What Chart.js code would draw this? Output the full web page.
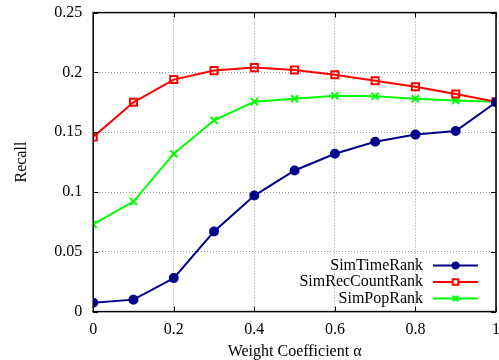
<!DOCTYPE html>
<html>
<head>
<meta charset="utf-8">
<script src="https://cdn.jsdelivr.net/npm/chart.js"></script>
<style>
  html, body { margin: 0; padding: 0; background: #fff; overflow: hidden; }
  #wrap { width: 509px; height: 376px; margin-top: -8px; }
</style>
</head>
<body>
<div id="wrap"><canvas id="recallChart"></canvas></div>
<script>
  // weight coefficient alpha and recall per ranking method
  const alphas = [0, 0.1, 0.2, 0.3, 0.4, 0.5, 0.6, 0.7, 0.8, 0.9, 1];
  const simTimeRank = [0.0075, 0.010, 0.028, 0.067, 0.097, 0.118, 0.132, 0.142, 0.148, 0.151, 0.175];
  const simRecCountRank = [0.146, 0.175, 0.194, 0.2015, 0.204, 0.202, 0.198, 0.193, 0.188, 0.182, 0.1755];
  const simPopRank = [0.073, 0.092, 0.132, 0.160, 0.1755, 0.178, 0.1805, 0.180, 0.178, 0.1765, 0.1755];

  const xTicks = ['0', '0.2', '0.4', '0.6', '0.8', '1'];
  const yTicks = ['0', '0.05', '0.1', '0.15', '0.2', '0.25'];

  const serif = '"Liberation Serif", "Times New Roman", serif';
  const topShift = 8; // canvas sits this far above the page top

  function points(values) {
    return values.map((v, i) => ({ x: alphas[i], y: v }));
  }

  // frame + inward tick marks around the plot area, and a gnuplot-style legend
  const framePlugin = {
    id: 'frame',
    afterDraw(chart) {
      const { ctx, chartArea: a, scales } = chart;
      ctx.save();
      ctx.strokeStyle = '#000';
      ctx.lineWidth = 1;
      ctx.beginPath();
      scales.x.ticks.forEach(t => {
        const px = Math.round(scales.x.getPixelForValue(t.value)) + 0.5;
        ctx.moveTo(px, a.bottom); ctx.lineTo(px, a.bottom - 5);
        ctx.moveTo(px, a.top); ctx.lineTo(px, a.top + 5);
      });
      scales.y.ticks.forEach(t => {
        const py = Math.round(scales.y.getPixelForValue(t.value)) + 0.5;
        ctx.moveTo(a.left, py); ctx.lineTo(a.left + 5, py);
        ctx.moveTo(a.right, py); ctx.lineTo(a.right - 5, py);
      });
      ctx.stroke();
      ctx.lineWidth = 1.5;
      ctx.strokeRect(a.left, a.top, a.right - a.left, a.bottom - a.top);

      ctx.font = '16px ' + serif;
      ctx.textAlign = 'right';
      ctx.textBaseline = 'middle';
      const textRight = 423, lineL = 433, lineR = 478;
      chart.data.datasets.forEach((ds, i) => {
        const y = topShift + 265.5 + i * 16.5;
        ctx.fillStyle = '#000';
        ctx.fillText(ds.label, textRight, y);
        ctx.strokeStyle = ds.borderColor;
        ctx.lineWidth = 2;
        ctx.beginPath();
        ctx.moveTo(lineL, y);
        ctx.lineTo(lineR, y);
        ctx.stroke();
        ctx.fillStyle = ds.pointBackgroundColor === 'transparent' ? '#fff' : ds.pointBackgroundColor;
        Chart.helpers.drawPoint(ctx, {
          pointStyle: ds.pointStyle,
          radius: ds.pointRadius - 1,
          rotation: 0,
          borderWidth: 2
        }, (lineL + lineR) / 2, y);
      });
      ctx.restore();
    }
  };

  const ctx = document.getElementById('recallChart').getContext('2d');
  new Chart(ctx, {
    type: 'line',
    data: {
      datasets: [
        {
          label: 'SimTimeRank', data: points(simTimeRank),
          borderColor: '#00008b', backgroundColor: '#00008b',
          pointStyle: 'circle', pointRadius: 4,
          pointBackgroundColor: '#00008b', pointBorderColor: '#00008b'
        },
        {
          label: 'SimRecCountRank', data: points(simRecCountRank),
          borderColor: '#ff0000', backgroundColor: '#ff0000',
          pointStyle: 'rect', pointRadius: 5,
          pointBackgroundColor: 'transparent', pointBorderColor: '#ff0000'
        },
        {
          label: 'SimPopRank', data: points(simPopRank),
          borderColor: '#00ff00', backgroundColor: '#00ff00',
          pointStyle: 'crossRot', pointRadius: 5,
          pointBackgroundColor: 'transparent', pointBorderColor: '#00ff00'
        }
      ]
    },
    options: {
      responsive: true,
      maintainAspectRatio: false,
      animation: false,
      layout: { padding: { top: 3, right: 0, left: 12, bottom: 7 } },
      elements: {
        line: { borderWidth: 2, tension: 0 },
        point: { borderWidth: 2 }
      },
      plugins: { legend: { display: false }, tooltip: { enabled: false } },
      scales: {
        x: {
          type: 'linear', min: 0, max: 1,
          afterBuildTicks: s => { s.ticks = xTicks.map(t => ({ value: parseFloat(t) })); },
          ticks: {
            callback: (v, i) => xTicks[i],
            font: { family: serif, size: 16 }, color: '#000', padding: 9, maxRotation: 0
          },
          grid: { color: '#999', lineWidth: 1, drawTicks: false },
          border: { display: false, dash: [1, 2] },
          title: { display: true, text: 'Weight Coefficient α', font: { family: serif, size: 16 }, color: '#000', padding: { top: -7, bottom: 0 } }
        },
        y: {
          min: 0, max: 0.25,
          afterBuildTicks: s => { s.ticks = yTicks.map(t => ({ value: parseFloat(t) })); },
          ticks: {
            callback: (v, i) => yTicks[i],
            font: { family: serif, size: 16 }, color: '#000', padding: 11
          },
          grid: { color: '#999', lineWidth: 1, drawTicks: false },
          border: { display: false, dash: [1, 2] },
          title: { display: true, text: 'Recall', font: { family: serif, size: 16 }, color: '#000', padding: { top: 0, bottom: 12 } }
        }
      }
    },
    plugins: [framePlugin]
  });
</script>
</body>
</html>
